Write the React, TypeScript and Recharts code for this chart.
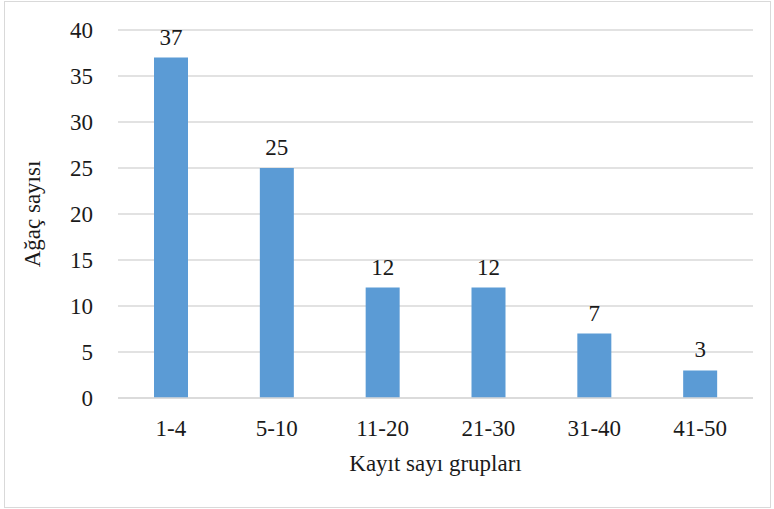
import React from "react";
import { BarChart, Bar, XAxis, YAxis, CartesianGrid, LabelList, Label } from "recharts";

const groups = ["1-4", "5-10", "11-20", "21-30", "31-40", "41-50"];
const treeCounts = [37, 25, 12, 12, 7, 3];
const yTicks = [0, 5, 10, 15, 20, 25, 30, 35, 40];

const data = groups.map((g, i) => ({ group: g, count: treeCounts[i] }));

const FONT = "'Liberation Serif', 'Times New Roman', serif";
const TEXT = "#1a1a1a";
const FS = 23;

const textStyle = { fontFamily: FONT, fontSize: FS, fill: TEXT };

const YTitle = ({ viewBox }: any) => {
  const cx = 32;
  const cy = viewBox.y + viewBox.height / 2;
  return (
    <text
      x={cx}
      y={cy}
      transform={`rotate(-90, ${cx}, ${cy})`}
      textAnchor="middle"
      dominantBaseline="central"
      style={textStyle}
    >
      Ağaç sayısı
    </text>
  );
};

const XTitle = ({ viewBox }: any) => {
  const cx = viewBox.x + viewBox.width / 2;
  return (
    <text x={cx} y={463} textAnchor="middle" dominantBaseline="central" style={textStyle}>
      Kayıt sayı grupları
    </text>
  );
};

export default function App() {
  return (
    <div
      style={{
        position: "absolute",
        left: 0,
        top: 0,
        width: 774,
        height: 509,
        background: "#fff",
        fontFamily: FONT,
      }}
    >
      <div
        style={{
          position: "absolute",
          left: 4,
          top: 1,
          width: 765,
          height: 505,
          border: "1px solid #d9d9d9",
        }}
      />
      <BarChart
        width={774}
        height={509}
        data={data}
        margin={{ top: 30, right: 21, left: 58, bottom: 0 }}
        barSize={34}
        style={{ position: "absolute", left: 0, top: 0, fontFamily: FONT }}
      >
        <CartesianGrid vertical={false} stroke="#d9d9d9" strokeWidth={1.3} />
        <XAxis
          dataKey="group"
          height={111}
          axisLine={{ stroke: "#d9d9d9", strokeWidth: 1.3 }}
          tickLine={false}
          tickMargin={16}
          tick={{ style: textStyle, fontFamily: FONT, fontSize: FS, fill: TEXT }}
        >
          <Label content={<XTitle />} />
        </XAxis>
        <YAxis
          width={60}
          domain={[0, 40]}
          ticks={yTicks}
          axisLine={false}
          tickLine={false}
          tickMargin={19}
          tick={{ style: textStyle, fontFamily: FONT, fontSize: FS, fill: TEXT }}
        >
          <Label content={<YTitle />} />
        </YAxis>
        <Bar dataKey="count" fill="#5b9bd5" isAnimationActive={false}>
          <LabelList dataKey="count" position="top" offset={13} style={textStyle} />
        </Bar>
      </BarChart>
    </div>
  );
}
